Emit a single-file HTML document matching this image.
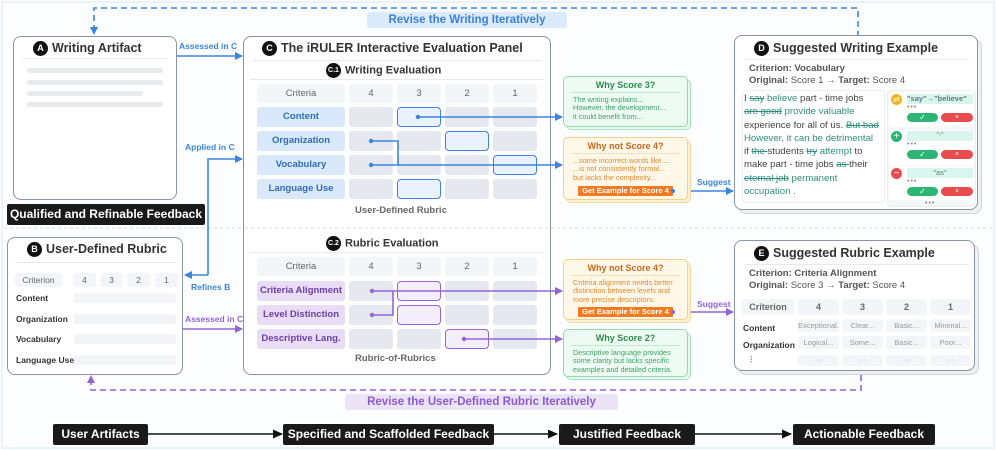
<!DOCTYPE html>
<html><head><meta charset="utf-8"><style>
*{box-sizing:border-box;margin:0;padding:0}
body{width:996px;height:450px;position:relative;background:#fff;font-family:"Liberation Sans","DejaVu Sans",sans-serif;overflow:hidden}
.a{position:absolute}
.frame{left:1px;top:1px;width:994px;height:448px;border:2px solid #e8f3fb;background:#fbfdff}
.box{position:absolute;background:#fff;border:1.5px solid #8a94a6;border-radius:8px}
.badge{display:inline-block;width:15px;height:15px;border-radius:50%;background:#111;color:#fff;font-size:9px;font-weight:bold;text-align:center;line-height:15px;vertical-align:middle;margin-right:4px}
.title{position:absolute;font-size:12.5px;font-weight:bold;color:#333;white-space:nowrap}
.blk{position:absolute;background:#1a1a1a;color:#fff;font-weight:bold;font-size:12px;text-align:center;line-height:21px;height:21px;border-radius:2px;white-space:nowrap}
.cell{position:absolute;background:#e5e8ee;border-radius:3px}
.hd{position:absolute;background:#f3f5f8;border-radius:3px;font-size:9.5px;color:#666;text-align:center;line-height:19px}
.cb{position:absolute;background:#d9e8fa;color:#2f6db5;font-weight:bold;font-size:9.5px;text-align:center;line-height:20px;border-radius:3px}
.cp{position:absolute;background:#e8dcf6;color:#6b40a8;font-weight:bold;font-size:9.5px;text-align:center;line-height:20px;border-radius:3px}
.hb{position:absolute;border:1.5px solid #3a86de;background:#eaf3fd;border-radius:4px}
.hp{position:absolute;border:1.5px solid #9463d8;background:#f4eefc;border-radius:4px}
.lbl{position:absolute;font-size:8.5px;font-weight:bold;white-space:nowrap}
.card{position:absolute;border-radius:5px;border:1.2px solid;font-size:7.3px;line-height:8.6px;padding:0 9px;white-space:nowrap;overflow:hidden}
.card h4{font-size:9px;text-align:center;padding:4px 0 2px;margin:0 -2px 3px;border-bottom:1px solid}
.btn{position:absolute;background:#f27a22;color:#fff;font-size:7.5px;font-weight:bold;text-align:center;line-height:10px;height:10px;border-radius:1px;white-space:nowrap}
.sm{font-size:9.5px;color:#555;position:absolute;white-space:nowrap}
.gbar{position:absolute;background:#e8eaee;height:5px;border-radius:2px}
.rbar{position:absolute;background:#f2f4f7;height:10px;border-radius:2px}
.rl{position:absolute;font-size:8.5px;font-weight:bold;color:#333}
</style></head><body>
<div class="a frame"></div>

<!-- top label -->
<div class="a" style="left:367px;top:12px;width:200px;height:16px;background:#dbeafc;border-radius:3px;color:#3b82d6;font-weight:bold;font-size:11.5px;text-align:center;line-height:16px">Revise the Writing Iteratively</div>
<div class="a" style="left:345px;top:394px;width:273px;height:16px;background:#ece3f7;border-radius:3px;color:#8c5bd3;font-weight:bold;font-size:11.5px;text-align:center;line-height:16px">Revise the User-Defined Rubric Iteratively</div>

<!-- A -->
<div class="box" style="left:13px;top:36px;width:164px;height:164px"></div>
<div class="title" style="left:33px;top:41px"><span class="badge">A</span>Writing Artifact</div>
<div class="a" style="left:23px;top:58px;width:145px;height:1px;background:#e6e9ee"></div>
<div class="gbar" style="left:27px;top:68px;width:136px"></div>
<div class="gbar" style="left:27px;top:80px;width:136px"></div>
<div class="gbar" style="left:27px;top:91px;width:116px"></div>
<div class="gbar" style="left:27px;top:102px;width:136px"></div>

<div class="lbl" style="left:179px;top:41px;color:#3a86de">Assessed in C</div>
<div class="lbl" style="left:185px;top:142px;color:#3a86de">Applied in C</div>
<div class="lbl" style="left:191px;top:282px;color:#3a86de">Refines B</div>
<div class="lbl" style="left:185px;top:314px;color:#9463d8">Assessed in C</div>

<!-- B -->
<div class="box" style="left:7px;top:237px;width:176px;height:138px"></div>
<div class="title" style="left:27px;top:242px"><span class="badge">B</span>User-Defined Rubric</div>
<div class="a" style="left:15px;top:262px;width:160px;height:1px;background:#e6e9ee"></div>
<div class="hd" style="left:15px;top:273px;width:47px;height:14px;line-height:14px;font-size:8.5px">Criterion</div>
<div class="hd" style="left:73px;top:273px;width:23px;height:14px;line-height:14px;font-size:8.5px">4</div>
<div class="hd" style="left:100px;top:273px;width:23px;height:14px;line-height:14px;font-size:8.5px">3</div>
<div class="hd" style="left:127px;top:273px;width:23px;height:14px;line-height:14px;font-size:8.5px">2</div>
<div class="hd" style="left:155px;top:273px;width:23px;height:14px;line-height:14px;font-size:8.5px">1</div>
<div class="rl" style="left:16px;top:293px">Content</div><div class="rbar" style="left:74px;top:293px;width:102px"></div>
<div class="rl" style="left:16px;top:314px">Organization</div><div class="rbar" style="left:74px;top:314px;width:102px"></div>
<div class="rl" style="left:16px;top:334px">Vocabulary</div><div class="rbar" style="left:74px;top:334px;width:102px"></div>
<div class="rl" style="left:16px;top:355px">Language Use</div><div class="rbar" style="left:74px;top:355px;width:102px"></div>

<!-- C -->
<div class="box" style="left:243px;top:36px;width:308px;height:339px"></div>
<div class="title" style="left:262px;top:41px"><span class="badge">C</span>The iRULER Interactive Evaluation Panel</div>
<div class="a" style="left:253px;top:60px;width:288px;height:1px;background:#e6e9ee"></div>
<div class="title" style="left:326px;top:63px;font-size:11px"><span class="badge" style="font-size:7px">C.1</span>Writing Evaluation</div>
<div class="a" style="left:250px;top:79px;width:294px;height:1px;background:#e6e9ee"></div>
<div class="hd" style="left:257px;top:84px;width:88px">Criteria</div>
<div class="hd" style="left:349px;top:84px;width:44px">4</div>
<div class="hd" style="left:397px;top:84px;width:44px">3</div>
<div class="hd" style="left:445px;top:84px;width:44px">2</div>
<div class="hd" style="left:493px;top:84px;width:44px">1</div>
<div class="cb" style="left:257px;top:107px;width:88px">Content</div>
<div class="cb" style="left:257px;top:131px;width:88px">Organization</div>
<div class="cb" style="left:257px;top:155px;width:88px">Vocabulary</div>
<div class="cb" style="left:257px;top:179px;width:88px">Language Use</div>
<div class="cell" style="left:349px;top:107px;width:44px;height:20px"></div><div class="cell" style="left:445px;top:107px;width:44px;height:20px"></div><div class="cell" style="left:493px;top:107px;width:44px;height:20px"></div>
<div class="cell" style="left:349px;top:131px;width:44px;height:20px"></div><div class="cell" style="left:397px;top:131px;width:44px;height:20px"></div><div class="cell" style="left:493px;top:131px;width:44px;height:20px"></div>
<div class="cell" style="left:349px;top:155px;width:44px;height:20px"></div><div class="cell" style="left:397px;top:155px;width:44px;height:20px"></div><div class="cell" style="left:445px;top:155px;width:44px;height:20px"></div>
<div class="cell" style="left:349px;top:179px;width:44px;height:20px"></div><div class="cell" style="left:445px;top:179px;width:44px;height:20px"></div><div class="cell" style="left:493px;top:179px;width:44px;height:20px"></div>
<div class="hb" style="left:397px;top:107px;width:44px;height:20px"></div>
<div class="hb" style="left:445px;top:131px;width:44px;height:20px"></div>
<div class="hb" style="left:493px;top:155px;width:44px;height:20px"></div>
<div class="hb" style="left:397px;top:179px;width:44px;height:20px"></div>
<div class="sm" style="left:355px;top:205px;color:#666;font-weight:bold;font-size:9.5px">User-Defined Rubric</div>

<div class="title" style="left:326px;top:236px;font-size:11px"><span class="badge" style="font-size:7px">C.2</span>Rubric Evaluation</div>
<div class="a" style="left:250px;top:252px;width:294px;height:1px;background:#e6e9ee"></div>
<div class="hd" style="left:257px;top:257px;width:88px">Criteria</div>
<div class="hd" style="left:349px;top:257px;width:44px">4</div>
<div class="hd" style="left:397px;top:257px;width:44px">3</div>
<div class="hd" style="left:445px;top:257px;width:44px">2</div>
<div class="hd" style="left:493px;top:257px;width:44px">1</div>
<div class="cp" style="left:257px;top:281px;width:88px">Criteria Alignment</div>
<div class="cp" style="left:257px;top:305px;width:88px">Level Distinction</div>
<div class="cp" style="left:257px;top:329px;width:88px">Descriptive Lang.</div>
<div class="cell" style="left:349px;top:281px;width:44px;height:20px"></div><div class="cell" style="left:445px;top:281px;width:44px;height:20px"></div><div class="cell" style="left:493px;top:281px;width:44px;height:20px"></div>
<div class="cell" style="left:349px;top:305px;width:44px;height:20px"></div><div class="cell" style="left:445px;top:305px;width:44px;height:20px"></div><div class="cell" style="left:493px;top:305px;width:44px;height:20px"></div>
<div class="cell" style="left:349px;top:329px;width:44px;height:20px"></div><div class="cell" style="left:397px;top:329px;width:44px;height:20px"></div><div class="cell" style="left:493px;top:329px;width:44px;height:20px"></div>
<div class="hp" style="left:397px;top:281px;width:44px;height:20px"></div>
<div class="hp" style="left:397px;top:305px;width:44px;height:20px"></div>
<div class="hp" style="left:445px;top:329px;width:44px;height:20px"></div>
<div class="sm" style="left:355px;top:353px;color:#666;font-weight:bold">Rubric-of-Rubrics</div>

<svg class="a" style="left:0;top:0" width="996" height="450">
<defs>
<marker id="ab" markerWidth="8" markerHeight="8" refX="7" refY="4" orient="auto" markerUnits="userSpaceOnUse"><path d="M0,0 L8,4 L0,8z" fill="#3a86de"/></marker>
<marker id="ap" markerWidth="8" markerHeight="8" refX="7" refY="4" orient="auto" markerUnits="userSpaceOnUse"><path d="M0,0 L8,4 L0,8z" fill="#9463d8"/></marker>
<marker id="ak" markerWidth="10" markerHeight="9" refX="9" refY="4.5" orient="auto" markerUnits="userSpaceOnUse"><path d="M0,0 L10,4.5 L0,9z" fill="#111"/></marker>
</defs>
<g fill="none" stroke-width="1.6">
<path d="M858 37 V8 H94 V34" stroke="#3a86de" stroke-dasharray="6,4" marker-end="url(#ab)"/>
<path d="M861 375 V390 H91 V376" stroke="#9463d8" stroke-dasharray="6,4" marker-end="url(#ap)"/>
<line x1="4" y1="228" x2="243" y2="228" stroke="#d6dbe2" stroke-width="1" stroke-dasharray="3,3"/>
<line x1="551" y1="228" x2="992" y2="228" stroke="#d6dbe2" stroke-width="1" stroke-dasharray="3,3"/>
<line x1="245" y1="228" x2="549" y2="228" stroke="#d6dbe2" stroke-width="1" stroke-dasharray="3,3"/>
<path d="M177 56 H242" stroke="#3a86de" marker-end="url(#ab)"/>
<path d="M208 275 V159 H242" stroke="#3a86de" marker-end="url(#ab)"/>
<path d="M208 275 H185" stroke="#3a86de" marker-end="url(#ab)"/>
<path d="M183 329 H242" stroke="#9463d8" marker-end="url(#ap)"/>
<path d="M418 117 H562" stroke="#3a86de" marker-end="url(#ab)"/>
<path d="M371 141 H398 V165" stroke="#3a86de"/>
<path d="M371 165 H562" stroke="#3a86de" marker-end="url(#ab)"/>
<path d="M673 191 H733" stroke="#3a86de" marker-end="url(#ab)"/>
<path d="M372 291 H562" stroke="#9463d8" marker-end="url(#ap)"/>
<path d="M372 315 H393 V291" stroke="#9463d8"/>
<path d="M464 339 H562" stroke="#9463d8" marker-end="url(#ap)"/>
<path d="M673 312 H733" stroke="#9463d8" marker-end="url(#ap)"/>
<path d="M148 434 H282" stroke="#111" marker-end="url(#ak)"/>
<path d="M494 434 H557" stroke="#111" marker-end="url(#ak)"/>
<path d="M695 434 H791" stroke="#111" marker-end="url(#ak)"/>
</g>
<g fill="#3a86de"><circle cx="418" cy="117" r="2.2"/><circle cx="371" cy="141" r="2.2"/><circle cx="371" cy="165" r="2.2"/></g>
<g fill="#9463d8"><circle cx="372" cy="291" r="2.2"/><circle cx="372" cy="315" r="2.2"/><circle cx="464" cy="339" r="2.2"/></g>
</svg>

<div class="blk" style="left:7px;top:204px;width:198px">Qualified and Refinable Feedback</div>

<!-- cards -->
<div class="card" style="left:566px;top:79px;width:125px;height:51px;background:#e7f8ee;border-color:#a6e3bd"></div>
<div class="card" style="left:563px;top:76px;width:125px;height:51px;background:#eefbf3;border-color:#8edcaa;color:#3aa467"><h4 style="color:#2e8b50;border-color:#bfe9cf">Why Score 3?</h4>The writing explains...<br>However, the development...<br>it could benefit from...</div>

<div class="card" style="left:566px;top:140px;width:125px;height:63px;background:#fdf0d9;border-color:#f5d79c"></div>
<div class="card" style="left:563px;top:137px;width:125px;height:63px;background:#fff7e8;border-color:#f5cf85;color:#e08b2f"><h4 style="color:#c86a1e;border-color:#f5dfb3">Why not Score 4?</h4>...some incorrect words like...<br>...is not consistently formal...<br>but lacks the complexity...</div>
<div class="btn" style="left:578px;top:186px;width:95px">Get Example for Score 4</div>
<div class="lbl" style="left:697px;top:177px;color:#3a86de">Suggest</div>

<div class="card" style="left:566px;top:262px;width:125px;height:61px;background:#fdf0d9;border-color:#f5d79c"></div>
<div class="card" style="left:563px;top:259px;width:125px;height:61px;background:#fff7e8;border-color:#f5cf85;color:#e08b2f"><h4 style="color:#c86a1e;border-color:#f5dfb3">Why not Score 4?</h4>Criteria alignment needs better<br>distinction between levels and<br>more precise descriptors.</div>
<div class="btn" style="left:578px;top:307px;width:95px">Get Example for Score 4</div>
<div class="lbl" style="left:697px;top:299px;color:#9463d8">Suggest</div>

<div class="card" style="left:566px;top:332px;width:125px;height:48px;background:#e7f8ee;border-color:#a6e3bd"></div>
<div class="card" style="left:563px;top:329px;width:125px;height:48px;background:#eefbf3;border-color:#8edcaa;color:#3aa467"><h4 style="color:#2e8b50;border-color:#bfe9cf">Why Score 2?</h4>Descriptive language provides<br>some clarity but lacks specific<br>examples and detailed criteria.</div>

<svg class="a" style="left:0;top:0" width="996" height="450">
<circle cx="673" cy="191" r="2" fill="#3a86de"/><circle cx="673" cy="312" r="2" fill="#9463d8"/>
</svg>

<!-- D -->
<div class="box" style="left:738px;top:39px;width:244px;height:175px;background:#eef0f3;border-color:#d0d5dc"></div>
<div class="box" style="left:734px;top:35px;width:244px;height:175px"></div>
<div class="title" style="left:754px;top:41px"><span class="badge">D</span>Suggested Writing Example</div>
<div class="a" style="left:745px;top:59px;width:224px;height:1px;background:#e6e9ee"></div>
<div class="sm" style="left:749px;top:63px;font-weight:bold;color:#555">Criterion: Vocabulary</div>
<div class="sm" style="left:749px;top:75px"><b>Original:</b> Score 1 → <b>Target:</b> Score 4</div>
<div class="a" style="left:742px;top:90px;width:143px;height:113px;border:1px solid #eceef2;border-radius:4px"></div>
<div class="a" style="left:744px;top:92px;width:142px;font-size:9.6px;line-height:13.3px;color:#444;white-space:nowrap">I <s style="color:#2f8f7f">say</s> <span style="color:#2f8f7f">believe</span> part - time jobs<br><s style="color:#2f8f7f">are good</s> <span style="color:#2f8f7f">provide valuable</span><br>experience for all of us. <s style="color:#2f8f7f">But bad</s><br><span style="color:#2f8f7f"> However, it can be detrimental</span><br>if <s style="color:#2f8f7f">the </s>students <s style="color:#2f8f7f">try</s> <span style="color:#2f8f7f">attempt</span> to<br>make part - time jobs <s style="color:#2f8f7f">as </s>their<br><s style="color:#2f8f7f">eternal job</s> <span style="color:#2f8f7f">permanent</span><br><span style="color:#2f8f7f">occupation .</span></div>
<div class="a" style="left:887px;top:90px;width:89px;height:117px;background:#f6f7f9;border-radius:4px;border:1px solid #eceef2"></div>
<div class="a" style="left:889px;top:91px;width:85px;height:36px;background:#fff;border-radius:3px"></div>
<div class="a" style="left:889px;top:130px;width:85px;height:36px;background:#fff;border-radius:3px"></div>
<div class="a" style="left:889px;top:167px;width:85px;height:33px;background:#fff;border-radius:3px"></div>
<div class="a" style="left:891px;top:94px;width:11px;height:11px;border-radius:50%;background:#f3b515;color:#fff;font-size:8px;text-align:center;line-height:11px">⇄</div>
<div class="a" style="left:907px;top:94px;width:66px;height:10px;background:#d8f6ee;color:#5b7b83;font-weight:bold;font-size:7.5px;line-height:10px;white-space:nowrap">"say"→"believe"</div>
<div class="a" style="left:891px;top:131px;width:11px;height:11px;border-radius:50%;background:#2bb673;color:#fff;font-size:10px;text-align:center;line-height:11px">+</div>
<div class="a" style="left:907px;top:131px;width:66px;height:10px;background:#d8f6ee;color:#5b7b83;font-size:7px;line-height:10px;text-align:center">"-"</div>
<div class="a" style="left:891px;top:168px;width:11px;height:11px;border-radius:50%;background:#e84c4c;color:#fff;font-size:10px;text-align:center;line-height:11px">−</div>
<div class="a" style="left:907px;top:168px;width:66px;height:10px;background:#d8f6ee;color:#5b7b83;font-size:7.5px;line-height:10px;text-align:center">"as"</div>
<div class="a" style="left:907px;top:104px;font-size:7px;color:#888;letter-spacing:1px">•••</div>
<div class="a" style="left:907px;top:141px;font-size:7px;color:#888;letter-spacing:1px">•••</div>
<div class="a" style="left:907px;top:178px;font-size:7px;color:#888;letter-spacing:1px">•••</div>
<div class="a" style="left:925px;top:200px;font-size:7px;color:#888;letter-spacing:1px">•••</div>
<div class="a" style="left:907px;top:113px;width:31px;height:9px;background:#2bb673;border-radius:5px;color:#fff;font-size:8px;text-align:center;line-height:9px">✓</div>
<div class="a" style="left:941px;top:113px;width:32px;height:9px;background:#e84c4c;border-radius:5px;color:#fff;font-size:7px;text-align:center;line-height:9px">×</div>
<div class="a" style="left:907px;top:150px;width:31px;height:9px;background:#2bb673;border-radius:5px;color:#fff;font-size:8px;text-align:center;line-height:9px">✓</div>
<div class="a" style="left:941px;top:150px;width:32px;height:9px;background:#e84c4c;border-radius:5px;color:#fff;font-size:7px;text-align:center;line-height:9px">×</div>
<div class="a" style="left:907px;top:187px;width:31px;height:9px;background:#2bb673;border-radius:5px;color:#fff;font-size:8px;text-align:center;line-height:9px">✓</div>
<div class="a" style="left:941px;top:187px;width:32px;height:9px;background:#e84c4c;border-radius:5px;color:#fff;font-size:7px;text-align:center;line-height:9px">×</div>

<!-- E -->
<div class="box" style="left:738px;top:244px;width:241px;height:131px;background:#eef0f3;border-color:#d0d5dc"></div>
<div class="box" style="left:734px;top:240px;width:241px;height:131px"></div>
<div class="title" style="left:754px;top:246px"><span class="badge">E</span>Suggested Rubric Example</div>
<div class="a" style="left:745px;top:264px;width:224px;height:1px;background:#e6e9ee"></div>
<div class="sm" style="left:749px;top:268px;font-weight:bold;color:#555">Criterion: Criteria Alignment</div>
<div class="sm" style="left:749px;top:280px"><b>Original:</b> Score 3 → <b>Target:</b> Score 4</div>
<div class="hd" style="left:742px;top:299px;width:52px;height:16px;line-height:16px;font-size:9px;font-weight:bold">Criterion</div>
<div class="hd" style="left:798px;top:299px;width:41px;height:16px;line-height:16px;font-size:9px;font-weight:bold">4</div>
<div class="hd" style="left:842px;top:299px;width:41px;height:16px;line-height:16px;font-size:9px;font-weight:bold">3</div>
<div class="hd" style="left:886px;top:299px;width:41px;height:16px;line-height:16px;font-size:9px;font-weight:bold">2</div>
<div class="hd" style="left:930px;top:299px;width:41px;height:16px;line-height:16px;font-size:9px;font-weight:bold">1</div>
<div class="rl" style="left:743px;top:323px">Content</div>
<div class="rl" style="left:743px;top:340px">Organization</div>
<div class="rl" style="left:747px;top:354px;color:#aaa">⋮</div>
<div class="hd" style="left:798px;top:319px;width:41px;height:13px;line-height:13px;font-size:7.5px;color:#999">Exceptional.</div>
<div class="hd" style="left:842px;top:319px;width:41px;height:13px;line-height:13px;font-size:7.5px;color:#999">Clear...</div>
<div class="hd" style="left:886px;top:319px;width:41px;height:13px;line-height:13px;font-size:7.5px;color:#999">Basic...</div>
<div class="hd" style="left:930px;top:319px;width:41px;height:13px;line-height:13px;font-size:7.5px;color:#999">Minimal...</div>
<div class="hd" style="left:798px;top:336px;width:41px;height:13px;line-height:13px;font-size:7.5px;color:#999">Logical...</div>
<div class="hd" style="left:842px;top:336px;width:41px;height:13px;line-height:13px;font-size:7.5px;color:#999">Some...</div>
<div class="hd" style="left:886px;top:336px;width:41px;height:13px;line-height:13px;font-size:7.5px;color:#999">Basic...</div>
<div class="hd" style="left:930px;top:336px;width:41px;height:13px;line-height:13px;font-size:7.5px;color:#999">Poor...</div>
<div class="hd" style="left:798px;top:355px;width:41px;height:11px;line-height:11px;font-size:7px;color:#aaa">···</div>
<div class="hd" style="left:842px;top:355px;width:41px;height:11px;line-height:11px;font-size:7px;color:#aaa">···</div>
<div class="hd" style="left:886px;top:355px;width:41px;height:11px;line-height:11px;font-size:7px;color:#aaa">···</div>
<div class="hd" style="left:930px;top:355px;width:41px;height:11px;line-height:11px;font-size:7px;color:#aaa">···</div>

<!-- bottom -->
<div class="blk" style="left:53px;top:424px;width:95px">User Artifacts</div>
<div class="blk" style="left:283px;top:424px;width:211px">Specified and Scaffolded Feedback</div>
<div class="blk" style="left:559px;top:424px;width:136px">Justified Feedback</div>
<div class="blk" style="left:793px;top:424px;width:142px">Actionable Feedback</div>
</body></html>
